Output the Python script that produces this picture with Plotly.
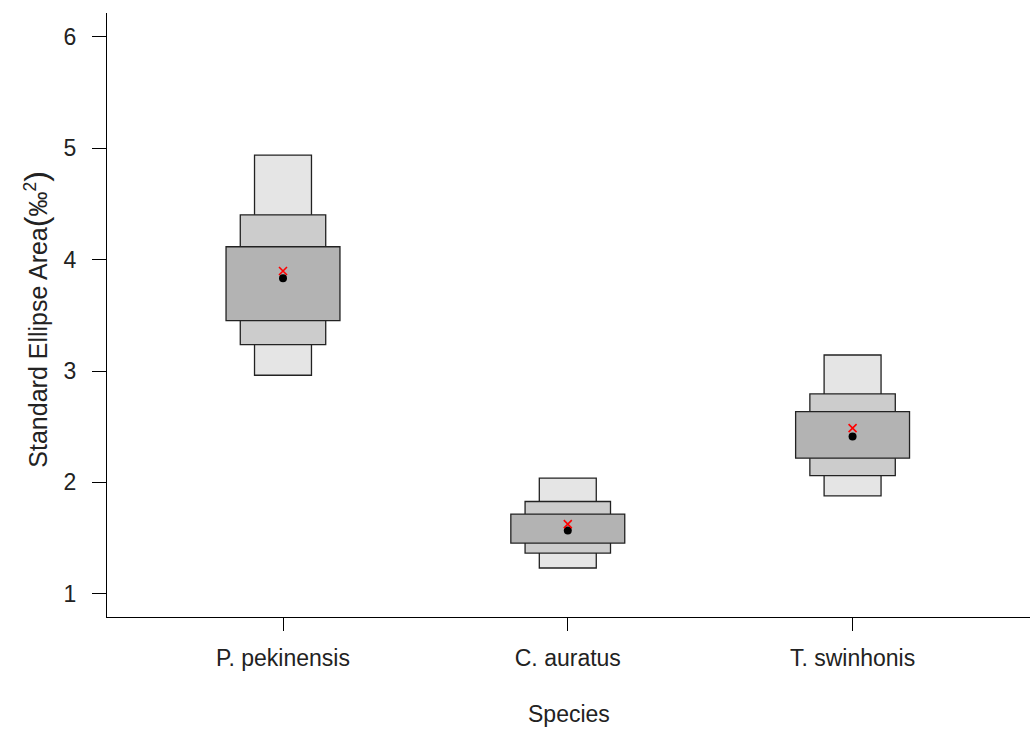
import plotly.graph_objects as go

# Species and their positions along the x axis
species = ["P. pekinensis", "C. auratus", "T. swinhonis"]
xpos = [1, 2, 3]

# Credible intervals of the standard ellipse area (‰²): 95 %, 75 %, 50 %
ci95_low = [2.962, 1.231, 1.879]
ci95_high = [4.939, 2.038, 3.144]
ci75_low = [3.237, 1.365, 2.061]
ci75_high = [4.403, 1.828, 2.794]
ci50_low = [3.452, 1.455, 2.217]
ci50_high = [4.116, 1.715, 2.636]

# Posterior modes (black dots) and sample-size-corrected SEAc (red crosses)
mode_vals = [3.832, 1.568, 2.411]
seac_vals = [3.898, 1.625, 2.487]

# y axis ticks
ytick_vals = [1, 2, 3, 4, 5, 6]

FONT = "Liberation Sans, Arial, sans-serif"
TXT = 23

fig = go.Figure()

boxes = [
    (ci95_low, ci95_high, 0.2, "#e5e5e5"),
    (ci75_low, ci75_high, 0.3, "#cccccc"),
    (ci50_low, ci50_high, 0.4, "#b3b3b3"),
]
for lo, hi, w, col in boxes:
    fig.add_trace(go.Bar(
        x=xpos,
        base=lo,
        y=[h - l for l, h in zip(lo, hi)],
        width=w,
        marker=dict(color=col, line=dict(color="#222222", width=1.3)),
        hoverinfo="skip",
        showlegend=False,
    ))

fig.add_trace(go.Scatter(
    x=xpos, y=mode_vals, mode="markers",
    marker=dict(symbol="circle", size=8, color="black"),
    showlegend=False,
))
fig.add_trace(go.Scatter(
    x=xpos, y=seac_vals, mode="markers",
    marker=dict(symbol="x-thin", size=8, color="red",
                line=dict(color="red", width=1.6)),
    showlegend=False,
))

# plot area in page pixels
X0, X1, Y0, Y1 = 107.3, 1030.0, 12.7, 617.3

fig.update_layout(
    width=1032, height=729,
    margin=dict(l=X0, r=1032 - X1, t=Y0, b=729 - Y1),
    paper_bgcolor="white", plot_bgcolor="white",
    barmode="overlay",
    font=dict(family=FONT, size=TXT, color="#222222"),
    xaxis=dict(
        range=[0.382, 3.623],
        tickmode="array", tickvals=xpos, ticktext=species,
        showline=True, linecolor="black", linewidth=1.3,
        ticks="outside", ticklen=13, tickcolor="black", tickwidth=1.3,
        showgrid=False, zeroline=False,
        ticklabelstandoff=7,
        tickfont=dict(size=TXT),
    ),
    yaxis=dict(
        range=[0.791, 6.215],
        tickmode="array", tickvals=ytick_vals,
        showline=True, linecolor="black", linewidth=1.3,
        ticks="outside", ticklen=14, tickcolor="black", tickwidth=1.3,
        showgrid=False, zeroline=False,
        ticklabelstandoff=11,
        tickfont=dict(size=TXT),
    ),
    annotations=[
        dict(text="Species",
             x=0.5, xref="paper",
             y=-(714 - Y1) / (Y1 - Y0), yref="paper", yanchor="middle",
             showarrow=False, font=dict(size=TXT)),
        dict(text="Standard Ellipse Area"
                  "<span style='font-size:32px'>(</span>‰<sup>2</sup>"
                  "<span style='font-size:32px'>)</span>",
             textangle=-90,
             x=-(X0 - 36) / (X1 - X0), xref="paper", xanchor="center",
             y=(Y1 - 320) / (Y1 - Y0), yref="paper", yanchor="middle",
             showarrow=False, font=dict(size=25)),
    ],
)

fig.write_html("out.html")
